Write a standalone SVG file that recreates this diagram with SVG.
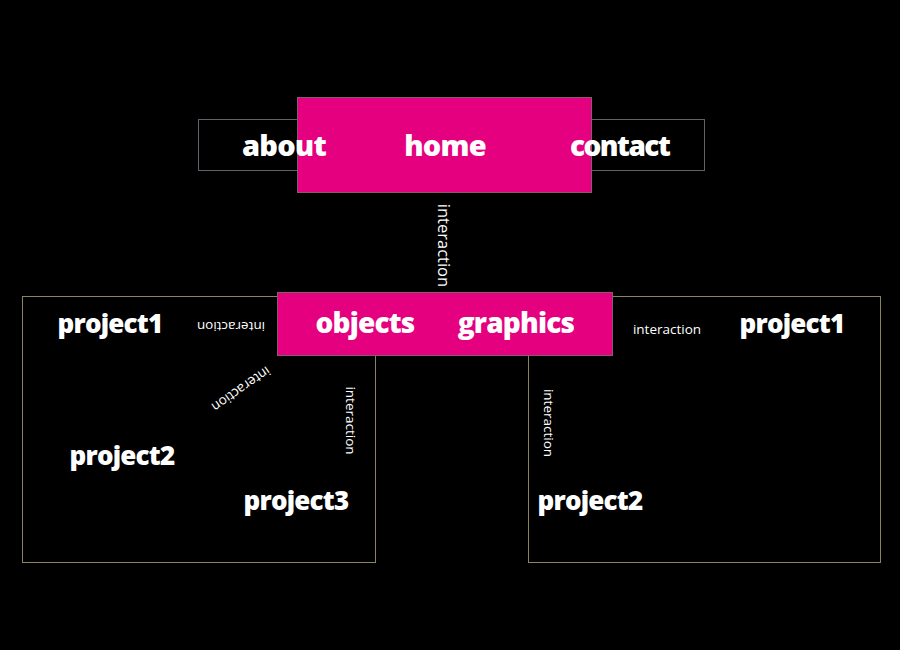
<svg xmlns="http://www.w3.org/2000/svg" width="900" height="650" viewBox="0 0 900 650">
<style>
.big{font-family:"Open Sans","Liberation Sans",sans-serif;font-weight:800;fill:#fff;text-anchor:middle;letter-spacing:-0.8px}
.lab{font-family:"Open Sans","Liberation Sans",sans-serif;font-weight:400;fill:#fff;text-anchor:middle}
.box{fill:none;stroke:#8c845c;stroke-width:1}
.pink{fill:#e4007f;stroke:#8a5a72;stroke-width:1}
</style>
<rect width="900" height="650" fill="#000"/>
<g id="connectors">
<text class="lab" font-size="16.5" transform="translate(443,245.5) rotate(90)" dy="5.5">interaction</text>
</g>
<g id="nav">
<rect x="198.5" y="119.5" width="506" height="51" fill="none" stroke="#5c636b"/>
<rect class="pink" x="297.5" y="97.5" width="294" height="95"/>
<text class="big" x="284" y="156" font-size="29">about</text>
<text class="big" x="445" y="156" font-size="29">home</text>
<text class="big" x="620" y="156" font-size="28" textLength="100">contact</text>
</g>
<g id="left-group">
<rect class="box" x="22.5" y="296.5" width="353" height="266"/>
<text class="big" x="110" y="333" font-size="26">project1</text>
<text class="big" x="122" y="465" font-size="26">project2</text>
<text class="big" x="296" y="510" font-size="26">project3</text>
<text class="lab" font-size="13.5" transform="translate(231,326) rotate(180)" dy="4.5">interaction</text>
<text class="lab" font-size="13.5" transform="translate(241,389) rotate(145)" dy="4.5">interaction</text>
<text class="lab" font-size="13.5" transform="translate(350,420.5) rotate(90)" dy="4.5">interaction</text>
</g>
<g id="right-group">
<rect class="box" x="528.5" y="296.5" width="352" height="266"/>
<text class="lab" x="667" y="334" font-size="13.5">interaction</text>
<text class="big" x="792" y="333" font-size="26">project1</text>
<text class="lab" font-size="13.5" transform="translate(548,423) rotate(90)" dy="4.5">interaction</text>
<text class="big" x="590" y="510" font-size="26">project2</text>
</g>
<g id="categories">
<rect class="pink" x="277.5" y="292.5" width="335" height="63"/>
<text class="big" x="365" y="333" font-size="28">objects</text>
<text class="big" x="516" y="333" font-size="28">graphics</text>
</g>
</svg>
